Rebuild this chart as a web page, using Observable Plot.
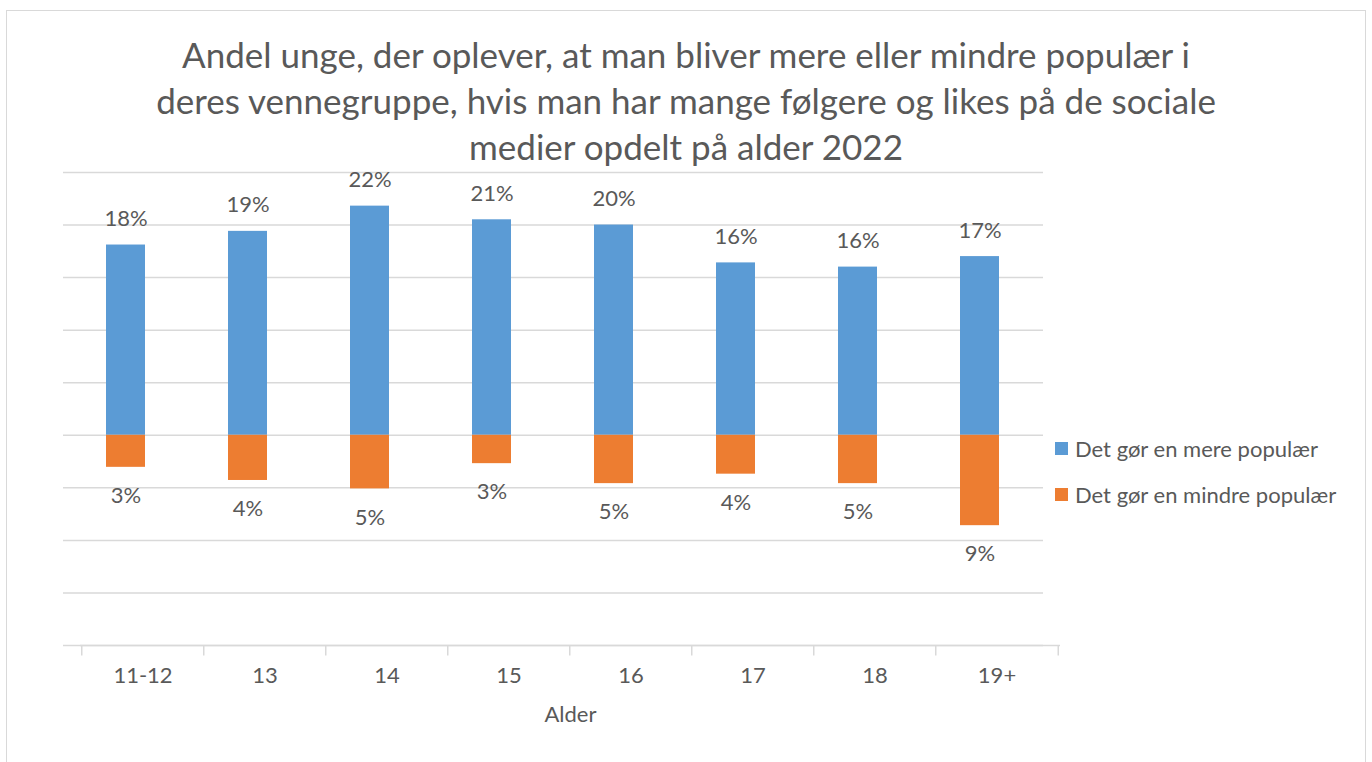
<!DOCTYPE html>
<html>
<head>
<meta charset="utf-8">
<script src="https://cdn.jsdelivr.net/npm/d3@7"></script>
<script src="https://cdn.jsdelivr.net/npm/@observablehq/plot@0.6"></script>
<style>
  html, body { margin: 0; padding: 0; background: #fff; }
  #wrap { position: relative; width: 1372px; height: 762px; overflow: hidden; font-family: Lato, "Open Sans", sans-serif; color: #595959; }
  #frame { position: absolute; left: 6px; top: 10px; width: 1360px; height: 770px; border: 1.5px solid #D9D9D9; box-sizing: border-box; }
  #title { position: absolute; left: 0; top: 31px; width: 1372px; text-align: center; font-size: 35px; line-height: 46px; color: #595959; }
  #chart { position: absolute; left: 0; top: 150px; }
  #legend { position: absolute; left: 1055px; top: 433px; font-size: 22px; color: #595959; }
  .li { display: flex; align-items: center; height: 30px; margin-bottom: 16px; }
  .sw { width: 13px; height: 13px; margin-right: 7px; }
</style>
</head>
<body>
<div id="wrap">
  <div id="frame"></div>
  <div id="title">Andel unge, der oplever, at man bliver mere eller mindre populær i<br>deres vennegruppe, hvis man har mange følgere og likes på de sociale<br>medier opdelt på alder 2022</div>
  <div id="chart"></div>
  <div id="legend"></div>
</div>
<script>
const categories = ["11-12", "13", "14", "15", "16", "17", "18", "19+"];
const merePopulaer = [18.1, 19.4, 21.8, 20.5, 20.0, 16.4, 16.0, 17.0];
const mindrePopulaer = [3.05, 4.3, 5.1, 2.7, 4.6, 3.7, 4.6, 8.6];
const seriesNames = ["Det gør en mere populær", "Det gør en mindre populær"];
const seriesColors = ["#5B9BD5", "#ED7D31"];
const yTicks = [-20, -15, -10, -5, 0, 5, 10, 15, 20, 25];
const axisLabel = "Alder";

const rows = [];
categories.forEach((c, i) => {
  rows.push({age: c, series: seriesNames[0], value: merePopulaer[i]});
  rows.push({age: c, series: seriesNames[1], value: -mindrePopulaer[i]});
});
const pos = rows.filter(d => d.value > 0);
const neg = rows.filter(d => d.value < 0);

const W = 1100, H = 600, mL = 63, mR = 57, mT = 22, mB = 105;
const step = (W - mL - mR) / categories.length;
const axisShift = 17;
const textColor = "#595959";
const gridColor = "#D9D9D9";

const chart = Plot.plot({
  width: W, height: H,
  marginLeft: mL, marginRight: mR, marginTop: mT, marginBottom: mB,
  style: {fontFamily: "Lato, 'Open Sans', sans-serif", color: textColor, background: "transparent"},
  x: {domain: categories, paddingInner: 0.68, paddingOuter: 0.34},
  y: {domain: [-20, 25], axis: null},
  color: {domain: seriesNames, range: seriesColors},
  marks: [
    Plot.ruleY(yTicks, {stroke: gridColor, strokeWidth: 1.5}),
    Plot.ruleY([-20], {stroke: gridColor, strokeWidth: 1.5, dx: axisShift}),
    Plot.ruleX(categories, {x: d => d, y1: -20, y2: -21, dx: -step / 2 + axisShift, stroke: gridColor, strokeWidth: 1.5}),
    Plot.ruleX(categories.slice(-1), {x: d => d, y1: -20, y2: -21, dx: step / 2 + axisShift, stroke: gridColor, strokeWidth: 1.5}),
    Plot.barY(rows, {x: "age", y1: 0, y2: "value", fill: "series"}),
    Plot.text(pos, {x: "age", y: "value", text: d => Math.round(d.value) + "%", lineAnchor: "bottom", dy: -19, fontSize: 22, fill: textColor}),
    Plot.text(neg, {x: "age", y: "value", text: d => Math.round(-d.value) + "%", lineAnchor: "top", dy: 20, fontSize: 22, fill: textColor}),
    Plot.axisX({tickSize: 0, tickPadding: 22, fontSize: 22, dx: axisShift, label: null, fill: textColor}),
    Plot.text([axisLabel], {frameAnchor: "bottom", text: d => d, lineAnchor: "bottom", dx: axisShift, dy: 76, fontSize: 22, fill: textColor}),
  ]
});
document.getElementById("chart").appendChild(chart);

const legend = document.getElementById("legend");
seriesNames.forEach((s, i) => {
  const li = document.createElement("div");
  li.className = "li";
  li.innerHTML = `<div class="sw" style="background:${seriesColors[i]}"></div><span>${s}</span>`;
  legend.appendChild(li);
});
</script>
</body>
</html>
